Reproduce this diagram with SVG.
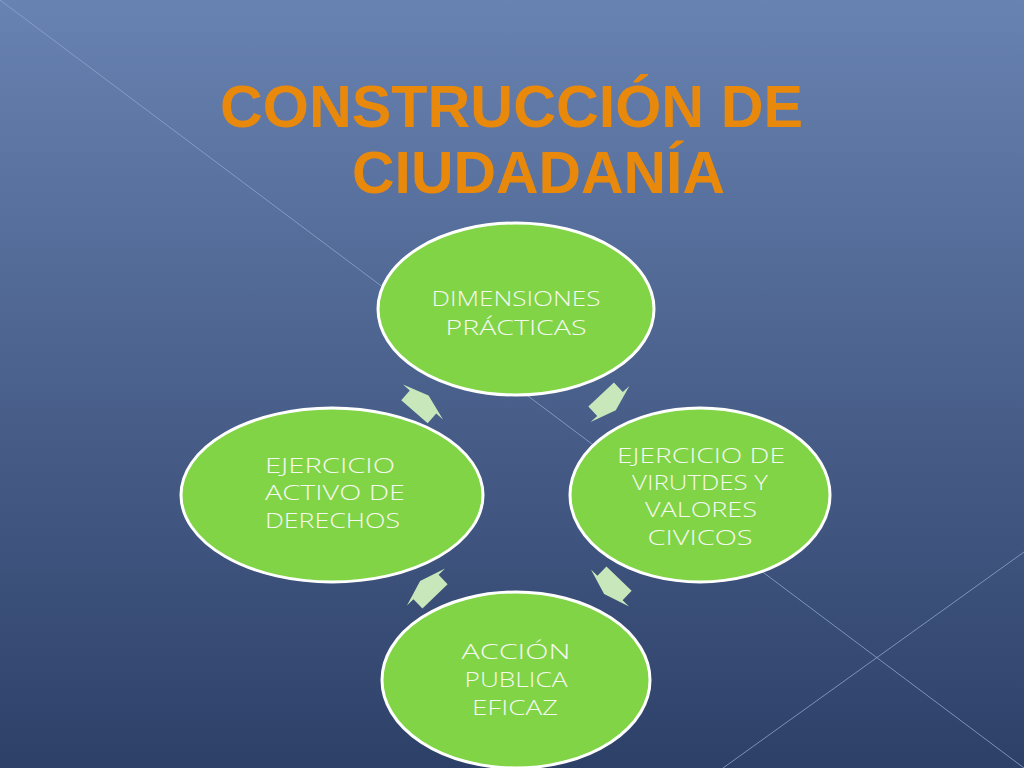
<svg xmlns="http://www.w3.org/2000/svg" width="1024" height="768" viewBox="0 0 1024 768">
<defs>
<linearGradient id="bg" x1="0" y1="0" x2="0" y2="1">
<stop offset="0" stop-color="#6882b1"/>
<stop offset="1" stop-color="#2d4068"/>
</linearGradient>
<polygon id="arr" points="8.5,0 0,26.5 0,17.5 -13,17.5 -13,-17.5 0,-17.5 0,-26.5"/>
</defs>
<style>
.node ellipse{fill:#80d446;stroke:#ffffff;stroke-width:3}
.node text{font-family:"Open Sans","DejaVu Sans",sans-serif;font-weight:300;font-size:21px;fill:#f4f8ee}
.c{text-anchor:middle}
.title{font-family:"Liberation Sans",Arial,sans-serif;font-weight:bold;font-size:60px;fill:#e8890c}
.deco{stroke:#8fa5cc;stroke-width:1;opacity:0.8}
.arrow{fill:#c8e8bc}
</style>
<rect width="1024" height="768" fill="url(#bg)"/>
<line class="deco" x1="0" y1="0" x2="1024" y2="768"/>
<line class="deco" x1="723" y1="768" x2="1024" y2="552"/>
<text class="title" x="220" y="127" textLength="583" lengthAdjust="spacingAndGlyphs">CONSTRUCCIÓN DE</text>
<text class="title" x="352" y="193" textLength="373" lengthAdjust="spacingAndGlyphs">CIUDADANÍA</text>
<g id="connectors">
<use class="arrow" href="#arr" transform="translate(423,402) rotate(-49)"/>
<use class="arrow" href="#arr" transform="translate(610,404) rotate(47)"/>
<use class="arrow" href="#arr" transform="translate(610,588) rotate(134)"/>
<use class="arrow" href="#arr" transform="translate(426,587) rotate(-134)"/>
</g>
<g id="n1" class="node">
<ellipse cx="516" cy="309" rx="138" ry="86"/>
<text class="c" x="516" y="306" textLength="169" lengthAdjust="spacingAndGlyphs">DIMENSIONES</text>
<text class="c" x="516" y="335" textLength="141" lengthAdjust="spacingAndGlyphs">PRÁCTICAS</text>
</g>
<g id="n2" class="node">
<ellipse cx="700" cy="495" rx="130" ry="87"/>
<text class="c" x="701" y="463" textLength="168" lengthAdjust="spacingAndGlyphs">EJERCICIO DE</text>
<text class="c" x="700" y="490" textLength="136" lengthAdjust="spacingAndGlyphs">VIRUTDES Y</text>
<text class="c" x="701" y="517" textLength="112" lengthAdjust="spacingAndGlyphs">VALORES</text>
<text class="c" x="700" y="545" textLength="105" lengthAdjust="spacingAndGlyphs">CIVICOS</text>
</g>
<g id="n3" class="node">
<ellipse cx="516" cy="680" rx="134" ry="88"/>
<text class="c" x="516" y="659" textLength="109" lengthAdjust="spacingAndGlyphs">ACCIÓN</text>
<text class="c" x="516" y="687" textLength="103" lengthAdjust="spacingAndGlyphs">PUBLICA</text>
<text class="c" x="515" y="715" textLength="86" lengthAdjust="spacingAndGlyphs">EFICAZ</text>
</g>
<g id="n4" class="node">
<ellipse cx="332" cy="495" rx="151" ry="87"/>
<text x="265" y="473" textLength="130" lengthAdjust="spacingAndGlyphs">EJERCICIO</text>
<text x="265" y="500" textLength="140" lengthAdjust="spacingAndGlyphs">ACTIVO DE</text>
<text x="265" y="528" textLength="135" lengthAdjust="spacingAndGlyphs">DERECHOS</text>
</g>
</svg>
